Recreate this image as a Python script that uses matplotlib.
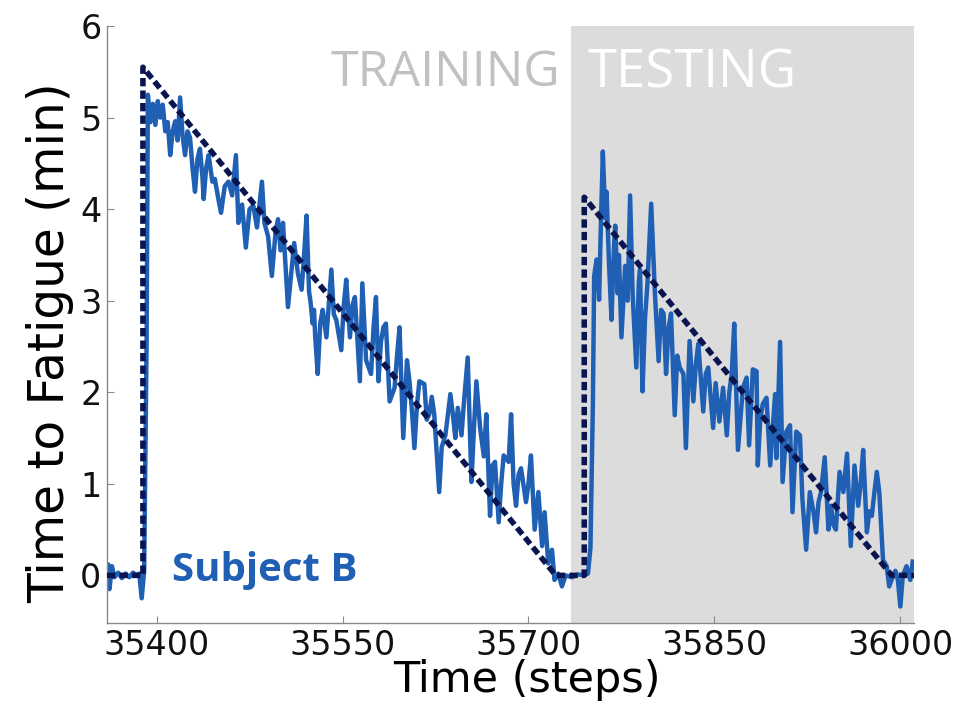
import matplotlib.pyplot as plt

# subject B trace (steps, time to fatigue in min)
train_steps = [35360, 35361, 35362, 35364, 35366, 35369, 35372, 35375, 35378, 35381, 35384, 35386, 35388, 35390, 35392,
               35393, 35395, 35397, 35399, 35401, 35403, 35405, 35407, 35409, 35411, 35413, 35415, 35417, 35419, 35421,
               35423, 35425, 35427, 35429, 35431, 35433, 35435, 35437, 35438, 35440, 35442, 35445, 35447, 35450, 35452,
               35455, 35458, 35461, 35464, 35466, 35469, 35472, 35475, 35478, 35481, 35485, 35487, 35490, 35493, 35496,
               35498, 35500, 35502, 35504, 35506, 35509, 35511, 35514, 35517, 35519, 35521, 35523, 35524, 35526, 35527,
               35528, 35530, 35532, 35534, 35537, 35541, 35543, 35545, 35549, 35551, 35553, 35556, 35558, 35560, 35564,
               35566, 35569, 35573, 35575, 35577, 35579, 35581, 35583, 35585, 35588, 35592, 35594, 35596, 35599, 35602,
               35604, 35606, 35608, 35610, 35612, 35616, 35618, 35620, 35622, 35624, 35628, 35630, 35633, 35637, 35639,
               35641, 35643, 35646, 35648, 35651, 35654, 35656, 35658, 35661, 35664, 35666, 35669, 35671, 35673, 35676,
               35678, 35680, 35684, 35686, 35688, 35690, 35692, 35694, 35698, 35700, 35702, 35705, 35708, 35711, 35713,
               35716, 35719, 35721, 35724, 35727, 35730, 35735, 35740, 35745, 35748]
train_vals = [0.02, 0.12, -0.15, 0.10, -0.02, 0.03, -0.03, 0.02, -0.02, 0.03, 0.0, 0.02, -0.25, 0.05, 2.6,
              5.25, 4.95, 5.15, 4.92, 5.18, 5.0, 5.14, 4.85, 4.95, 4.59, 4.85, 4.96, 4.75, 5.22, 4.80,
              4.59, 4.85, 4.78, 4.45, 4.19, 4.55, 4.66, 4.35, 4.11, 4.45, 4.59, 4.30, 4.33, 4.10, 3.96,
              4.25, 4.30, 4.15, 4.59, 3.85, 4.05, 3.58, 4.00, 4.04, 3.80, 4.30, 3.85, 3.70, 3.27, 3.75,
              3.89, 3.55, 3.85, 3.40, 2.93, 3.35, 3.63, 3.30, 3.12, 3.50, 3.93, 3.10, 3.01, 2.75, 2.90,
              2.60, 2.20, 2.75, 2.90, 2.60, 3.34, 2.85, 2.79, 2.46, 2.95, 3.23, 2.60, 2.95, 3.04, 2.12,
              3.19, 2.35, 2.20, 2.70, 3.04, 2.12, 2.55, 2.71, 2.75, 1.90, 2.05, 2.40, 2.71, 1.50, 2.35,
              2.12, 1.80, 1.39, 1.85, 2.12, 2.09, 1.70, 1.76, 1.95, 1.76, 0.91, 1.40, 1.53, 1.98, 1.76,
              1.50, 1.83, 1.53, 1.90, 2.38, 1.02, 1.60, 2.12, 1.61, 1.30, 1.76, 0.65, 1.20, 1.24, 0.58,
              1.00, 1.31, 1.24, 1.76, 1.00, 0.76, 1.10, 1.17, 0.80, 1.00, 1.31, 0.50, 0.91, 0.32, 0.69,
              0.13, 0.28, -0.05, 0.02, -0.12, 0.0, -0.02, 0.01, 0.0, 0.02]

test_steps = [35750, 35752, 35753, 35755, 35757, 35758, 35760, 35762, 35763, 35765, 35767, 35769, 35770, 35772, 35773,
              35775, 35778, 35780, 35782, 35784, 35787, 35789, 35790, 35792, 35794, 35796, 35799, 35802, 35805, 35807,
              35809, 35811, 35813, 35815, 35818, 35820, 35822, 35825, 35827, 35830, 35833, 35835, 35837, 35841, 35843,
              35845, 35849, 35851, 35854, 35857, 35860, 35862, 35864, 35866, 35869, 35873, 35876, 35878, 35881, 35884,
              35885, 35887, 35889, 35892, 35895, 35897, 35899, 35900, 35903, 35905, 35908, 35911, 35913, 35916, 35919,
              35921, 35924, 35927, 35930, 35932, 35934, 35936, 35939, 35942, 35944, 35946, 35948, 35951, 35954, 35957,
              35960, 35963, 35966, 35968, 35970, 35973, 35975, 35977, 35979, 35981, 35983, 35986, 35989, 35991, 35994,
              35996, 35998, 36000, 36002, 36005, 36008, 36010]
test_vals = [0.3, 1.90, 3.27, 3.45, 3.01, 3.60, 4.63, 3.90, 4.19, 3.40, 2.79, 3.60, 3.82, 3.08, 3.50,
             2.60, 3.38, 3.00, 4.15, 3.08, 2.27, 3.20, 3.34, 2.01, 2.80, 3.19, 4.06, 3.08, 2.34, 2.90,
             2.86, 2.20, 2.70, 2.86, 1.75, 2.40, 2.27, 2.20, 1.39, 2.56, 1.90, 2.30, 2.53, 1.79, 2.20,
             2.27, 1.61, 2.10, 1.68, 2.05, 1.53, 2.00, 2.20, 2.75, 1.37, 2.05, 2.16, 1.42, 2.25, 2.23,
             1.20, 1.70, 1.87, 1.94, 1.20, 1.60, 1.98, 1.28, 2.55, 1.02, 1.57, 1.64, 0.69, 1.57, 1.53,
             0.83, 0.28, 0.91, 0.69, 0.47, 0.80, 0.91, 1.29, 0.50, 0.76, 0.55, 0.50, 1.13, 0.91, 1.33,
             0.32, 1.20, 0.76, 1.00, 1.37, 0.47, 0.70, 0.65, 0.90, 1.13, 0.91, 0.17, 0.10, -0.12, -0.01,
             0.05, -0.05, -0.34, 0.0, 0.10, -0.05, 0.15]

# ideal time-to-fatigue (dashed)
ideal_steps = [35360, 35389, 35389, 35722, 35745, 35745, 35993, 36011]
ideal_vals = [0.0, 0.0, 5.55, 0.0, 0.0, 4.13, 0.0, 0.0]

x_ticks = [35400, 35550, 35700, 35850, 36000]
y_ticks = [0, 1, 2, 3, 4, 5, 6]
test_start = 35734

blue = '#1f5fb4'
navy = '#0a1550'

fig = plt.figure(figsize=(9.77, 7.09), dpi=100)
ax = fig.add_axes([0.1095, 0.1213, 0.826, 0.842])

ax.axvspan(test_start, 36011, color='#dcdcdc', lw=0, zorder=0)
ax.plot(train_steps + test_steps, train_vals + test_vals, color=blue, lw=3.2, zorder=2)
ax.plot(ideal_steps, ideal_vals, color=navy, lw=4.0, ls=(0, (1.5, 0.75)), zorder=3)

ax.set_xlim(35360, 36011)
ax.set_ylim(-0.52, 6.0)
ax.set_xticks(x_ticks)
ax.set_yticks(y_ticks)

for side in ['top', 'right']:
    ax.spines[side].set_visible(False)
for side in ['left', 'bottom']:
    ax.spines[side].set_color('#8a8a8a')
    ax.spines[side].set_linewidth(1.0)
ax.tick_params(direction='in', length=5, width=0.8, color='#8a8a8a', labelsize=24, labelcolor='#111111', pad=4)

ax.set_xlabel('Time (steps)', fontsize=31, labelpad=-2)
ax.set_ylabel('Time to Fatigue (min)', fontsize=35, labelpad=4)
ax.xaxis.label.set_x(0.52)
ax.yaxis.label.set_y(0.47)

ax.text(35633, 5.48, 'TRAINING', fontsize=36, family='Open Sans', color='#bfc1c4', ha='center', va='center')
ax.text(35832, 5.48, 'TESTING', fontsize=38, family='Open Sans', color='white', ha='center', va='center')
ax.text(35487, 0.05, 'Subject B', fontsize=29, family='Open Sans', fontweight='bold', color=blue,
        ha='center', va='center')

plt.savefig('out.png', dpi=100)
